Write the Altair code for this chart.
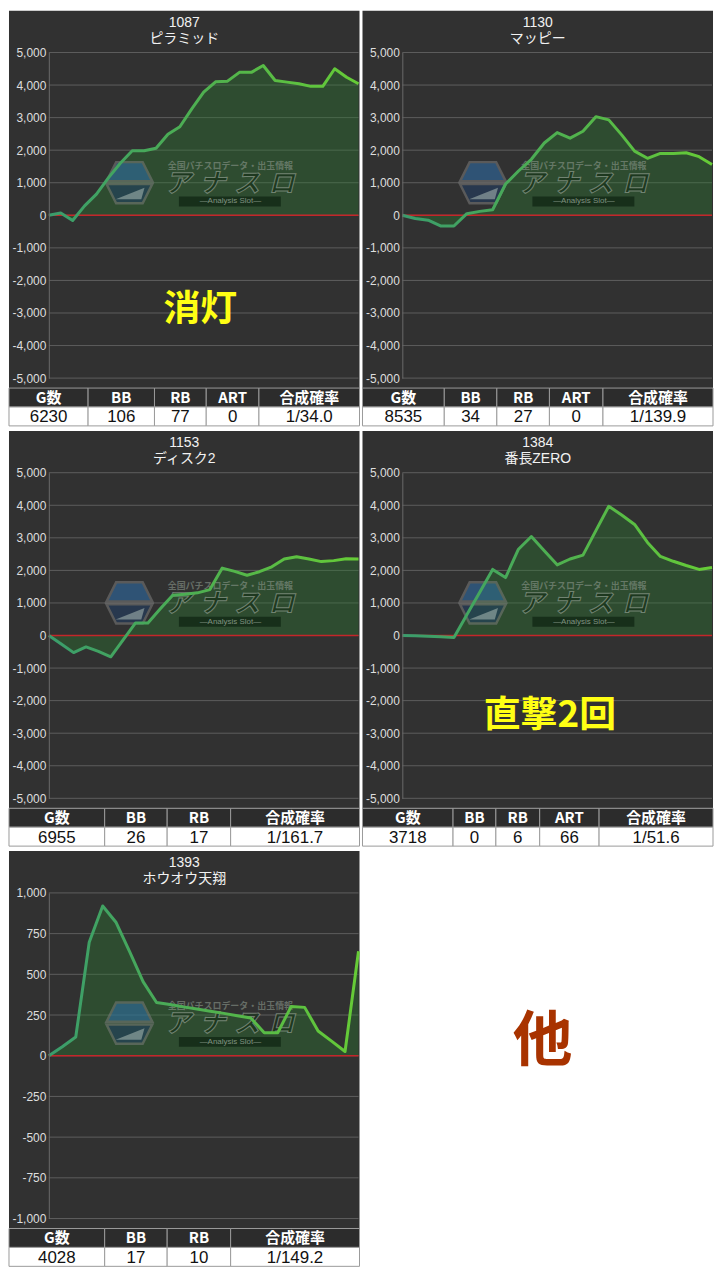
import altair as alt
import pandas as pd

# ---------------- data ----------------
machine_no = ["1087", "1130", "1153", "1384", "1393"]
machine_name = ["ピラミッド", "マッピー", "ディスク2", "番長ZERO", "ホウオウ天翔"]

diff_1087 = [0, 70, -160, 290, 650, 1150, 1600, 1980, 1980, 2060, 2490, 2720, 3270, 3780,
             4100, 4120, 4390, 4390, 4600, 4140, 4090, 4040, 3960, 3960, 4500, 4240, 4040]
diff_1130 = [0, -100, -150, -330, -330, 50, 120, 170, 960, 1360, 1720, 2220, 2540, 2370,
             2580, 3030, 2930, 2470, 1970, 1750, 1900, 1900, 1920, 1800, 1560]
diff_1153 = [0, -260, -525, -350, -490, -655, -135, 385, 385, 820, 1240, 1270, 1310, 1410,
             2070, 1970, 1850, 1960, 2110, 2350, 2420, 2350, 2270, 2300, 2360, 2350]
diff_1384 = [0, -10, -20, -40, -60, 640, 1330, 2030, 1780, 2650, 3040, 2600, 2170, 2350,
             2470, 3220, 3970, 3700, 3410, 2860, 2430, 2280, 2150, 2030, 2090]
diff_1393 = [0, 55, 115, 697, 920, 818, 640, 455, 327, 315, 300, 287, 273, 260, 246, 232,
             141, 141, 303, 297, 152, 90, 26, 642]

y_big = [-5000, 5000, 1000]
y_small = [-1000, 1000, 250]

head_5 = ["G数", "BB", "RB", "ART", "合成確率"]
head_4 = ["G数", "BB", "RB", "合成確率"]
stats_1087 = ["6230", "106", "77", "0", "1/34.0"]
stats_1130 = ["8535", "34", "27", "0", "1/139.9"]
stats_1153 = ["6955", "26", "17", "1/161.7"]
stats_1384 = ["3718", "0", "6", "66", "1/51.6"]
stats_1393 = ["4028", "17", "10", "1/149.2"]

note_1087 = "消灯"
note_1384 = "直撃2回"
other_label = "他"
logo_chars = ["ア", "ナ", "ス", "ロ"]

# ---------------- layout / style ----------------
LA, PW, RM = 40, 311, 1          # label area, plot width, right margin
TOP, PH, BOT = 42, 327, 10       # title area, plot height, bottom margin
PANEL_W = LA + PW + RM
TBL_H = 38
FX = PW / 319.0
FY = PH / 330.0

COLW = {
    "1087": [81, 68, 53, 54, 103],
    "1130": [84, 54, 54, 55, 113],
    "1153": [98, 64, 65, 132],
    "1384": [93, 44, 45, 61, 117],
    "1393": [98, 64, 65, 132],
}

BG = "#313131"
SANS = "Liberation Sans, Noto Sans CJK JP, sans-serif"
JP = "Noto Sans CJK JP, sans-serif"
NARROW = "Liberation Sans Narrow, Liberation Sans, sans-serif"

LINE_GRAD = alt.Gradient(
    gradient="linear",
    stops=[alt.GradientStop(color="#3a9c6c", offset=0),
           alt.GradientStop(color="#4fb050", offset=0.5),
           alt.GradientStop(color="#66cc36", offset=1)],
    x1=0, x2=1, y1=0, y2=0,
)


def one():
    return alt.Data(values=[{}])


def V(x, y):
    return dict(x=alt.value(x * FX), y=alt.value(y * FY))


def frame(color):
    # panel background covering title, axis labels and plot
    return alt.Chart(one()).mark_rect(color=color).encode(
        x=alt.value(-LA), x2=alt.value(PW + RM), y=alt.value(-TOP), y2=alt.value(PH + BOT))


def watermark():
    hex_top = "M -1 -0.06 L -0.58 -0.9 L 0.58 -0.9 L 1 -0.06 Z"
    hex_bot = "M -1 0.06 L 1 0.06 L 0.58 0.9 L -0.58 0.9 Z"
    stripe = "M -0.6 0.72 L 0.66 0.22 L 0.52 0.72 Z"
    layers = [
        alt.Chart(one()).mark_point(shape=hex_top, size=46 * 46, filled=True, fill="#2f70ad",
                                    stroke="#7c7c7c", strokeWidth=2.5, opacity=0.55)
        .encode(**V(83, 132)),
        alt.Chart(one()).mark_point(shape=hex_bot, size=46 * 46, filled=True, fill="#213f66",
                                    stroke="#7c7c7c", strokeWidth=2.5, opacity=0.55)
        .encode(**V(83, 132)),
        alt.Chart(one()).mark_point(shape=stripe, size=46 * 46, filled=True, fill="#b8c8c0",
                                    strokeWidth=0, opacity=0.5)
        .encode(**V(83, 132)),
        alt.Chart(one()).mark_text(text="全国パチスロデータ・出玉情報", font=JP, fontSize=9,
                                   fontWeight="bold", color="#8a968a", opacity=0.6)
        .encode(**V(187, 115)),
        alt.Chart(one()).mark_rect(color="#0e2311", opacity=0.7)
        .encode(x=alt.value(134 * FX), x2=alt.value(239 * FX),
                y=alt.value(146 * FY), y2=alt.value(156 * FY)),
        alt.Chart(one()).mark_text(text="—Analysis Slot—", font=SANS, fontSize=8,
                                   color="#9aaa9a", opacity=0.8)
        .encode(**V(187, 151)),
    ]
    for k, ch in enumerate(logo_chars):
        layers.append(
            alt.Chart(one()).mark_text(text=ch, font=JP, fontSize=26, fontWeight="bold",
                                       fontStyle="italic", color="#163019", stroke="#8e9c8e",
                                       strokeWidth=1, opacity=0.7)
            .encode(**V(133 + 35.5 * k, 133)))
    return layers


def table_layers(head, stats, widths):
    rows = []
    x0 = 0
    for h, s, w in zip(head, stats, widths):
        rows.append(dict(c0=x0, c1=x0 + w, cm=x0 + w / 2, r0=0, r1=1, rm=0.5, txt=h, kind="h"))
        rows.append(dict(c0=x0, c1=x0 + w, cm=x0 + w / 2, r0=1, r1=2, rm=1.5, txt=s, kind="d"))
        x0 += w
    df = pd.DataFrame(rows)
    xs = alt.Scale(domain=[0, x0], range=[-LA, PW + RM], nice=False, zero=False)
    ys = alt.Scale(domain=[0, 2], range=[PH + BOT, PH + BOT + TBL_H], nice=False, zero=False)
    base = alt.Chart(df)
    enc_rect = dict(x=alt.X("c0:Q", scale=xs, axis=None), x2="c1:Q",
                    y=alt.Y("r0:Q", scale=ys, axis=None), y2="r1:Q")
    enc_txt = dict(x=alt.X("cm:Q", scale=xs, axis=None),
                   y=alt.Y("rm:Q", scale=ys, axis=None), text="txt:N")
    head_rect = base.transform_filter("datum.kind == 'h'").mark_rect(
        fill="#2c2c2c", stroke="#9a9a9a", strokeWidth=1).encode(**enc_rect)
    data_rect = base.transform_filter("datum.kind == 'd'").mark_rect(
        fill="#ffffff", stroke="#9a9a9a", strokeWidth=1).encode(**enc_rect)
    head_txt = base.transform_filter("datum.kind == 'h'").mark_text(
        font=JP, fontSize=15, fontWeight="bold", color="#ffffff", baseline="middle",
        dy=0).encode(**enc_txt)
    data_txt = base.transform_filter("datum.kind == 'd'").mark_text(
        font=NARROW, fontSize=17, color="#111111", baseline="middle", dy=1).encode(**enc_txt)
    return [head_rect, data_rect, head_txt, data_txt]


def panel(no, name, vals, yr, head, stats, note=None, note_xy=None):
    ylo, yhi, step = yr
    n = len(vals)
    df = pd.DataFrame({"i": list(range(n)), "v": vals})
    ticks = pd.DataFrame({"t": list(range(ylo, yhi + 1, step))})
    zero = pd.DataFrame({"z": [0]})
    xs = alt.Scale(domain=[0, n - 1], nice=False, zero=False)
    ys = alt.Scale(domain=[ylo, yhi], nice=False, zero=False)
    yaxis = alt.Axis(values=ticks["t"].tolist(),
                     labelExpr="replace(format(datum.value, ',.0f'), '\u2212', '-')",
                     grid=False, ticks=False, domain=True, domainColor="#6a6a6a",
                     labelColor="#dedede", labelFontSize=12, labelFont=SANS,
                     labelPadding=3, zindex=1, title=None)

    grid = alt.Chart(ticks).mark_rule(color="#5e5e5e", strokeWidth=1).encode(
        y=alt.Y("t:Q", scale=ys, axis=None), x=alt.value(0), x2=alt.value(PW))
    area = alt.Chart(df).mark_area(color="#2a7c30", opacity=0.36).encode(
        x=alt.X("i:Q", scale=xs, axis=None),
        y=alt.Y("v:Q", scale=ys, axis=yaxis), y2=alt.datum(0))
    zline = alt.Chart(zero).mark_rule(color="#c4262a", strokeWidth=1.5).encode(
        y=alt.Y("z:Q", scale=ys, axis=None), x=alt.value(0), x2=alt.value(PW))
    line = alt.Chart(df).mark_line(color=LINE_GRAD, strokeWidth=3, strokeJoin="round").encode(
        x=alt.X("i:Q", scale=xs, axis=None),
        y=alt.Y("v:Q", scale=ys, axis=None))
    t1 = alt.Chart(one()).mark_text(text=no, font=SANS, fontSize=14, color="#f2f2f2").encode(
        x=alt.value(PANEL_W / 2 - LA), y=alt.value(-30))
    t2 = alt.Chart(one()).mark_text(text=name, font=SANS, fontSize=14, color="#f2f2f2").encode(
        x=alt.value(PANEL_W / 2 - LA), y=alt.value(-14))

    layers = [frame(BG), grid, area, zline] + watermark() + [line, t1, t2]
    if note:
        layers.append(alt.Chart(one()).mark_text(
            text=note, font=JP, fontSize=37, fontWeight="bold", color="#ffff14").encode(
            **V(note_xy[0], note_xy[1])))
    layers += table_layers(head, stats, COLW[no])
    return alt.layer(*layers).resolve_scale(x="independent", y="independent").properties(
        width=PW, height=PH)


p1 = panel(machine_no[0], machine_name[0], diff_1087, y_big, head_5, stats_1087,
           note_1087, (156, 261))
p2 = panel(machine_no[1], machine_name[1], diff_1130, y_big, head_5, stats_1130)
p3 = panel(machine_no[2], machine_name[2], diff_1153, y_big, head_4, stats_1153)
p4 = panel(machine_no[3], machine_name[3], diff_1384, y_big, head_5, stats_1384,
           note_1384, (152, 247))
p5 = panel(machine_no[4], machine_name[4], diff_1393, y_small, head_4, stats_1393)

# empty right-hand cell of the last row, same frame geometry as a panel (white)
other_frame = alt.Chart(one()).mark_rect(color="#ffffff").encode(
    x=alt.value(-LA), x2=alt.value(PW + RM), y=alt.value(-TOP), y2=alt.value(PH + BOT + TBL_H))
other_text = alt.Chart(one()).mark_text(
    text=other_label, font=JP, fontSize=60, fontWeight="bold", color="#a83300").encode(
    x=alt.value(182 - LA), y=alt.value(193 - TOP))
other = alt.layer(other_frame, other_text).properties(width=PW, height=PH)

row1 = alt.hconcat(p1, p2, spacing=1)
row2 = alt.hconcat(p3, p4, spacing=1)
row3 = alt.hconcat(p5, other, spacing=1)

chart = alt.vconcat(row1, row2, row3, spacing=4).properties(
    padding=0, background="#ffffff",
).configure_view(strokeWidth=0, fill=None)

chart.save("out.html", embed_options={"renderer": "svg", "actions": False})
